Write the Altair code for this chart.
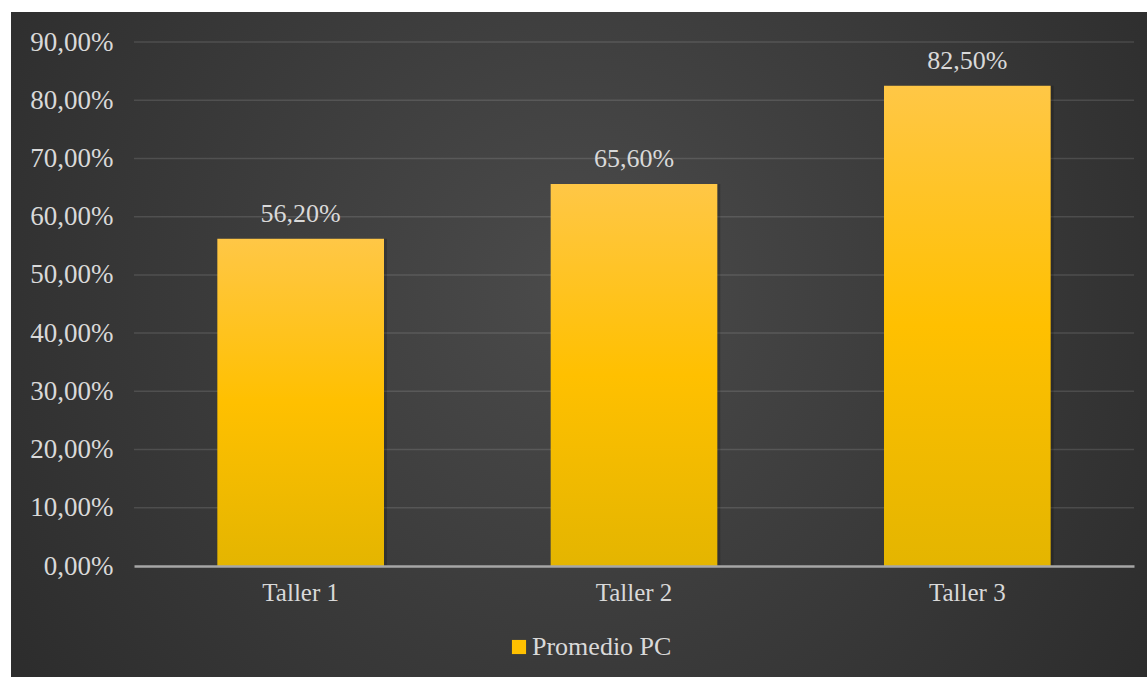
import altair as alt
import pandas as pd

categories = ["Taller 1", "Taller 2", "Taller 3"]
values = [0.562, 0.656, 0.825]
series_name = "Promedio PC"
y_ticks = [0.0, 0.1, 0.2, 0.3, 0.4, 0.5, 0.6, 0.7, 0.8, 0.9]

df = pd.DataFrame({"cat": categories, "value": values, "series": [series_name] * 3})
grid_df = pd.DataFrame({"tick": y_ticks})

FONT = "Liberation Serif"
TXT = "#d9d9d9"
fmt_expr = "replace(format(datum.value, '.2%'), '.', ',')"

W, H = 1000, 524
PL, PT = 134, 42

bg = alt.Chart(alt.Data(values=[{}])).mark_rect(
    fill=alt.Gradient(
        gradient="radial",
        x1=0.5, y1=0.45, r1=0.0,
        x2=0.5, y2=0.45, r2=0.75,
        stops=[alt.GradientStop(offset=0, color="#4b4b4b"),
               alt.GradientStop(offset=1, color="#252525")],
    )
).encode(
    x=alt.value(11 - PL), x2=alt.value(1147 - PL),
    y=alt.value(12 - PT), y2=alt.value(677 - PT),
)

grid = alt.Chart(grid_df).transform_filter("datum.tick > 0").mark_rule(
    color="#ffffff", opacity=0.12, strokeWidth=1.5
).encode(
    y=alt.Y("tick:Q", scale=alt.Scale(domain=[0, 0.9])),
    x=alt.value(0), x2=alt.value(W),
)

xenc = alt.X("cat:N", sort=categories,
             scale=alt.Scale(paddingInner=0.5, paddingOuter=0.25),
             axis=alt.Axis(title=None, labelAngle=0, labelFont=FONT, labelFontSize=25,
                           labelColor=TXT, labelPadding=14, ticks=False,
                           domainColor="#a6a6a6", domainWidth=2.5, zindex=1, grid=False))
yenc = alt.Y("value:Q", scale=alt.Scale(domain=[0, 0.9], nice=False),
             axis=alt.Axis(title=None, values=y_ticks, labelExpr=fmt_expr, labelFont=FONT,
                           labelFontSize=27, labelColor=TXT, labelPadding=21, ticks=False,
                           domain=False, grid=False, zindex=1))

bars = alt.Chart(df).mark_bar(
    fill=alt.Gradient(
        gradient="linear", x1=0, y1=0, x2=0, y2=1,
        stops=[alt.GradientStop(offset=0, color="#ffc746"),
               alt.GradientStop(offset=0.5, color="#ffc000"),
               alt.GradientStop(offset=1, color="#e4b500")],
    )
).encode(x=xenc, y=yenc)

shadow = alt.Chart(df).mark_bar(color="#000000", opacity=0.18, xOffset=3).encode(
    x=xenc, y=yenc
)

labels = alt.Chart(df).transform_calculate(
    lab=fmt_expr
).mark_text(font=FONT, fontSize=26, color=TXT, baseline="alphabetic", dy=-17).encode(
    x=alt.X("cat:N", sort=categories), y="value:Q", text="lab:N"
)

legend_layer = alt.Chart(df).mark_point(opacity=0, filled=True).encode(
    x=alt.X("cat:N", sort=categories), y="value:Q",
    color=alt.Color("series:N", scale=alt.Scale(range=["#ffc000"]),
                    legend=alt.Legend(title=None, orient="none", legendX=372, legendY=592,
                                      symbolType="square", symbolSize=200, symbolOpacity=1,
                                      symbolStrokeWidth=0, labelFont=FONT, labelFontSize=26,
                                      labelColor=TXT, labelOffset=0, padding=0)),
)

chart = alt.layer(bg, grid, bars, shadow, labels, legend_layer).properties(
    width=W, height=H,
    autosize=alt.AutoSizeParams(type="none"),
    padding={"left": PL, "top": PT, "right": 1147 - PL - W, "bottom": 677 - PT - H},
    background="#ffffff",
)
# draw shadow beneath bars by reordering layers after axis merge
chart = alt.layer(bg, grid, shadow, bars, labels, legend_layer).properties(
    width=W, height=H,
    autosize=alt.AutoSizeParams(type="none"),
    padding={"left": PL, "top": PT, "right": 1147 - PL - W, "bottom": 677 - PT - H},
    background="#ffffff",
).configure_view(stroke=None)

chart.save("out.html", embed_options={"renderer": "svg", "actions": False})
